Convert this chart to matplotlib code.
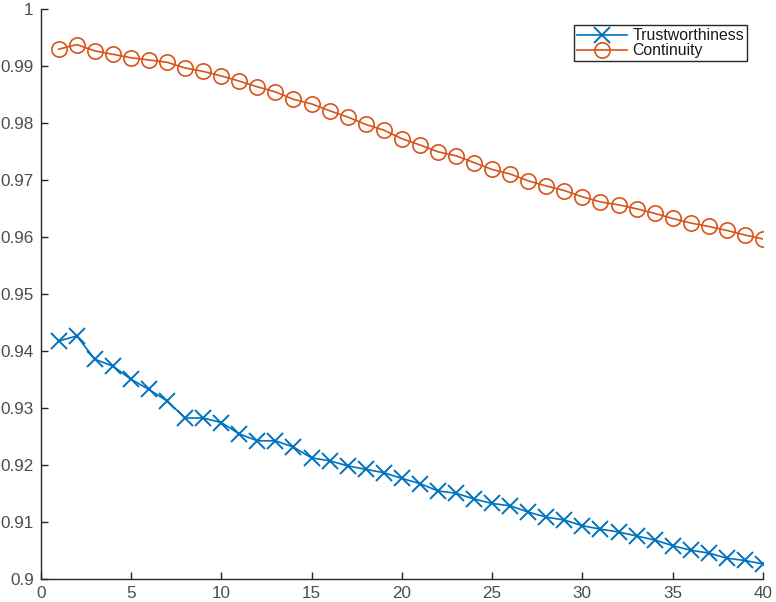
import matplotlib
matplotlib.use("Agg")
import matplotlib.pyplot as plt
from matplotlib.ticker import FuncFormatter

plt.rcParams['font.family'] = ['Liberation Sans', 'DejaVu Sans']

# values
k = list(range(1, 41))
trust = [0.9418, 0.9427, 0.9386, 0.9374, 0.9351, 0.9333, 0.9313, 0.9283, 0.9283, 0.9275,
         0.9255, 0.9243, 0.9243, 0.9232, 0.9213, 0.9208, 0.9199, 0.9193, 0.9187, 0.9177,
         0.9168, 0.9155, 0.9151, 0.9141, 0.9133, 0.9129, 0.9118, 0.9109, 0.9104, 0.9094,
         0.9088, 0.9083, 0.9076, 0.9069, 0.9059, 0.9051, 0.9046, 0.9037, 0.9033, 0.9027]
cont = [0.9930, 0.9938, 0.9927, 0.9921, 0.9915, 0.9911, 0.9907, 0.9897, 0.9891, 0.9883,
        0.9874, 0.9864, 0.9855, 0.9842, 0.9834, 0.9822, 0.9811, 0.9798, 0.9788, 0.9773,
        0.9762, 0.9750, 0.9743, 0.9731, 0.9719, 0.9711, 0.9699, 0.9690, 0.9682, 0.9671,
        0.9662, 0.9657, 0.9650, 0.9642, 0.9633, 0.9625, 0.9619, 0.9612, 0.9604, 0.9597]
labels = ['Trustworthiness', 'Continuity']
xticks = [0, 5, 10, 15, 20, 25, 30, 35, 40]
yticks = [0.9, 0.91, 0.92, 0.93, 0.94, 0.95, 0.96, 0.97, 0.98, 0.99, 1.0]

fig = plt.figure(figsize=(7.76, 6.02), dpi=100)
ax = fig.add_axes([0.0524, 0.0377, 0.9308, 0.9469])

ax.plot(k, trust, color='#0072BD', lw=1.2, marker='x', ms=12, mew=1.4, label=labels[0])
ax.plot(k, cont, color='#D95319', lw=1.2, marker='o', ms=11, mew=1.2,
        mfc='none', label=labels[1])

ax.set_xlim(0, 40)
ax.set_ylim(0.9, 1.0)
ax.set_xticks(xticks)
ax.set_yticks(yticks)
ax.yaxis.set_major_formatter(FuncFormatter(lambda v, p: '%g' % round(v, 2)))

gray = '#262626'
for s in ['top', 'right']:
    ax.spines[s].set_visible(False)
for s in ['left', 'bottom']:
    ax.spines[s].set_color(gray)
    ax.spines[s].set_linewidth(1.0)
ax.tick_params(direction='in', length=5, width=1.0, color=gray,
               labelcolor='#4d4d4d', labelsize=12.3, pad=5)

leg = ax.legend(loc='upper right', bbox_to_anchor=(0.978, 0.9725), borderaxespad=0,
                fancybox=False, framealpha=1, edgecolor=gray, fontsize=11.4,
                handlelength=3.2, handletextpad=0.3, labelspacing=0.0,
                borderpad=0.2)
leg.get_frame().set_linewidth(1.0)
for t in leg.get_texts():
    t.set_color('#1a1a1a')

fig.savefig('out.png', dpi=100)
